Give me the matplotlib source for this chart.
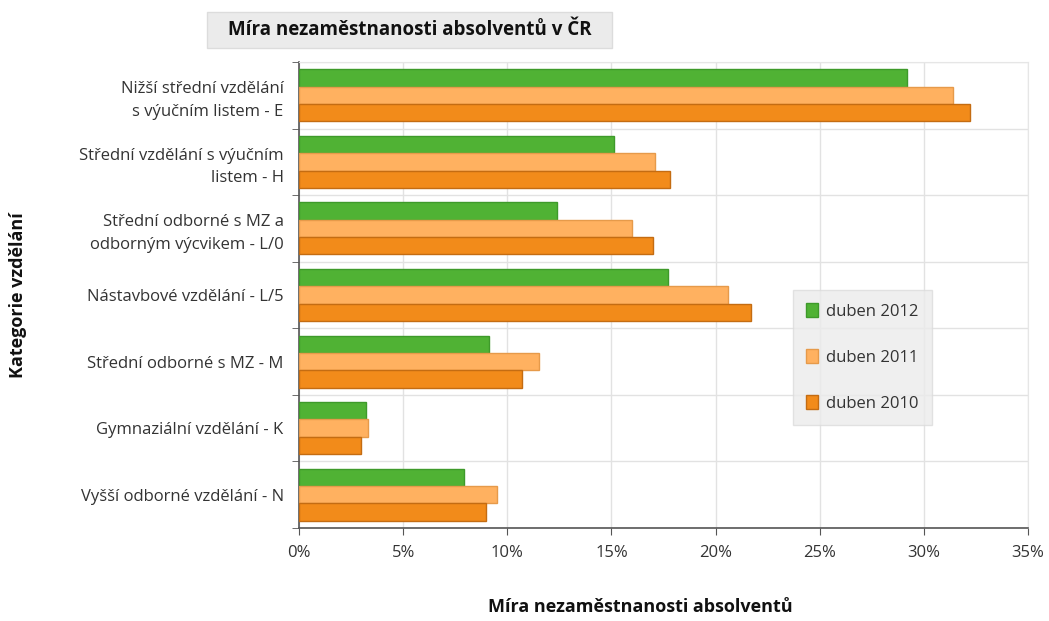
import matplotlib
matplotlib.use("Agg")
import matplotlib.pyplot as plt
import numpy as np
from matplotlib.ticker import FuncFormatter, MultipleLocator
from matplotlib.patches import Rectangle

categories = [
    "Nižší střední vzdělání\ns výučním listem - E",
    "Střední vzdělání s výučním\nlistem - H",
    "Střední odborné s MZ a\nodborným výcvikem - L/0",
    "Nástavbové vzdělání - L/5",
    "Střední odborné s MZ - M",
    "Gymnaziální vzdělání - K",
    "Vyšší odborné vzdělání - N",
]
series_names = ["duben 2012", "duben 2011", "duben 2010"]
duben_2012 = [29.2, 15.1, 12.4, 17.7, 9.1, 3.2, 7.9]
duben_2011 = [31.4, 17.1, 16.0, 20.6, 11.5, 3.3, 9.5]
duben_2010 = [32.2, 17.8, 17.0, 21.7, 10.7, 3.0, 9.0]

title = "Míra nezaměstnanosti absolventů v ČR"
xlabel = "Míra nezaměstnanosti absolventů"
ylabel = "Kategorie vzdělání"

plt.rcParams['font.family'] = ['Open Sans', 'DejaVu Sans']

W, H = 1049, 621
fig = plt.figure(figsize=(W / 100, H / 100), dpi=100)
ax = fig.add_axes([299/W, 1 - 528/H, (1028-299)/W, (528-62)/H])

fills = ["#50b234", "#ffb160", "#f28b1a"]
edges = ["#3e9a2a", "#e69a4a", "#c46c12"]
data = [duben_2012, duben_2011, duben_2010]

n = len(categories)
y = np.arange(n)
h = 0.26
for i, (vals, fc, ec, name) in enumerate(zip(data, fills, edges, series_names)):
    ax.barh(y + (i - 1) * h, vals, height=h, color=fc, edgecolor=ec,
            linewidth=1.0, label=name, zorder=3)

ax.set_ylim(n - 0.5, -0.5)
ax.set_xlim(0, 35)
ax.xaxis.set_major_locator(MultipleLocator(5))
ax.xaxis.set_major_formatter(FuncFormatter(lambda v, p: f"{v:.0f}%"))

ax.set_yticks(y)
ax.set_yticklabels(categories, fontsize=12, color="#333333", linespacing=1.55)
ax.set_yticks(np.arange(-0.5, n, 1), minor=True)
ax.tick_params(axis="y", which="major", length=0, pad=11)
ax.tick_params(axis="y", which="minor", length=5, color="#555555")
ax.tick_params(axis="x", which="major", length=5, color="#555555",
               labelsize=12, labelcolor="#333333", pad=7)

ax.grid(axis="x", which="major", color="#e2e2e2", linewidth=1, zorder=0)
ax.grid(axis="y", which="minor", color="#e2e2e2", linewidth=1, zorder=0)
ax.set_axisbelow(True)

for s in ["top", "right"]:
    ax.spines[s].set_color("#e6e6e6")
for s in ["left", "bottom"]:
    ax.spines[s].set_color("#555555")
    ax.spines[s].set_linewidth(1.2)

leg = ax.legend(loc="upper left", bbox_to_anchor=((793-299)/729, 1 - (290-62)/466),
                borderaxespad=0, frameon=True, fontsize=12, labelspacing=1.75,
                handlelength=0.7, handleheight=0.9, handletextpad=0.5,
                borderpad=0.8, fancybox=False)
leg.get_frame().set_facecolor("#ebebeb")
leg.get_frame().set_edgecolor("#dcdcdc")
for t in leg.get_texts():
    t.set_color("#333333")

fig.patches.append(Rectangle((207/W, 1 - 48/H), (612-207)/W, 36/H,
                             transform=fig.transFigure, facecolor="#ebebeb",
                             edgecolor="#dcdcdc", linewidth=1))
fig.text(410/W, 1 - 30/H, title, ha="center", va="center", fontsize=13.5,
         fontweight="bold", color="#111111")
fig.text(640/W, 1 - 607/H, xlabel, ha="center", va="center", fontsize=13,
         fontweight="bold", color="#111111")
fig.text(18/W, 1 - 295/H, ylabel, ha="center", va="center", fontsize=13,
         fontweight="bold", color="#111111", rotation=90)

fig.savefig("out.png", dpi=100, facecolor="white")
